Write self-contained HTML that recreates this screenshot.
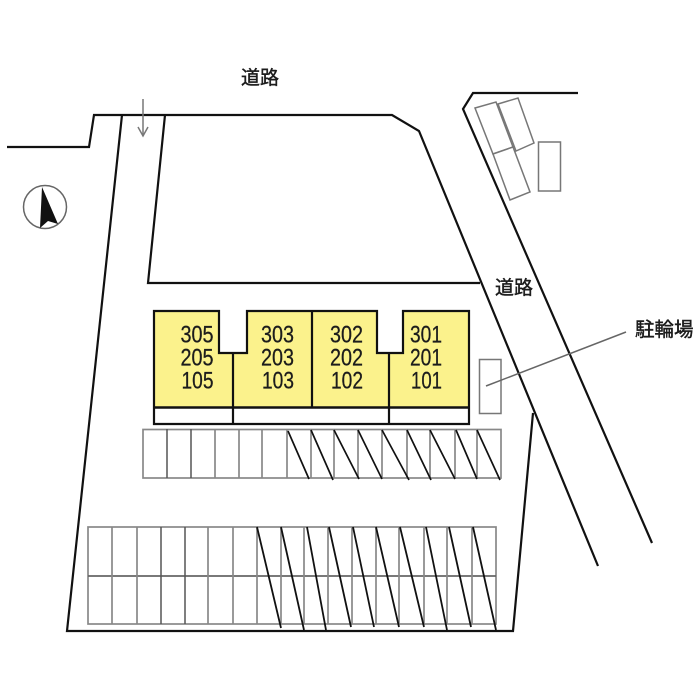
<!DOCTYPE html>
<html><head><meta charset="utf-8">
<style>html,body{margin:0;padding:0;background:#fff}svg{display:block}
text{font-family:"Liberation Sans","Noto Sans CJK JP",sans-serif;fill:#1c1c1c}
.lab{stroke:#1c1c1c;stroke-width:.45px}.num{stroke:#1c1c1c;stroke-width:.25px}</style></head>
<body>
<svg width="700" height="700" viewBox="0 0 700 700" xmlns="http://www.w3.org/2000/svg">
<rect width="700" height="700" fill="#fff"/>
<!-- site lines -->
<g fill="none" stroke="#111" stroke-width="2.200">
<polyline points="7,147 89,147 94,115 392,115 419,131 598,566"/>
<polyline points="122,115 67,631 513,631 533,413"/>
<polyline points="165,115 148,283 480,283"/>
<polyline points="578,93 473,93 463,109 652,543"/>
</g>
<!-- arrow -->
<g fill="none" stroke="#777" stroke-width="1.500">
<line x1="143" y1="99" x2="143" y2="136"/>
<polyline points="138,127 143,136 148,127"/>
</g>
<!-- north -->
<circle cx="45" cy="207" r="21.500" fill="#fff" stroke="#666" stroke-width="1.500"/>
<polygon points="42,187 58,224 48,221 40,228" fill="#111"/>
<!-- top right cars -->
<g fill="#fff" stroke="#777" stroke-width="1.500">
<polygon points="475,108 496,102 513,147 493,154"/>
<polygon points="498,104 518,98 534,143 516,151"/>
<polygon points="493,154 513,147 530,192 510,200"/>
<rect x="538.500" y="142" width="22" height="49"/>
<rect x="479.500" y="359.500" width="21.500" height="54"/>
</g>
<!-- leader -->
<line x1="486" y1="386" x2="626" y2="332" stroke="#666" stroke-width="1.500"/>
<!-- building -->
<polygon points="154,311 219,311 219,353 247,353 247,311 377,311 377,353 403,353 403,311 469,311 469,407 154,407" fill="#fbf28c"/>
<g fill="none" stroke="#111" stroke-width="2.200">
<polygon points="154,311 219,311 219,353 247,353 247,311 377,311 377,353 403,353 403,311 469,311 469,424 154,424"/>
<line x1="154" y1="407.500" x2="469" y2="407.500" stroke-width="2.500"/>
<line x1="233" y1="353" x2="233" y2="424"/>
<line x1="312" y1="311" x2="312" y2="407"/>
<line x1="389" y1="353" x2="389" y2="424"/>
</g>
<g font-size="24" class="num">
<text x="180.500" y="342.500" textLength="33" lengthAdjust="spacingAndGlyphs">305</text>
<text x="180.500" y="365.500" textLength="33" lengthAdjust="spacingAndGlyphs">205</text>
<text x="181.500" y="388.500" textLength="32" lengthAdjust="spacingAndGlyphs">105</text>
<text x="261" y="342.500" textLength="33" lengthAdjust="spacingAndGlyphs">303</text>
<text x="261" y="365.500" textLength="33" lengthAdjust="spacingAndGlyphs">203</text>
<text x="262" y="388.500" textLength="32" lengthAdjust="spacingAndGlyphs">103</text>
<text x="330" y="342.500" textLength="33" lengthAdjust="spacingAndGlyphs">302</text>
<text x="330" y="365.500" textLength="33" lengthAdjust="spacingAndGlyphs">202</text>
<text x="331" y="388.500" textLength="32" lengthAdjust="spacingAndGlyphs">102</text>
<text x="410" y="342.500" textLength="32" lengthAdjust="spacingAndGlyphs">301</text>
<text x="410" y="365.500" textLength="32" lengthAdjust="spacingAndGlyphs">201</text>
<text x="411" y="388.500" textLength="31" lengthAdjust="spacingAndGlyphs">101</text>
</g>
<!-- parking 1 -->
<g fill="none" stroke="#888" stroke-width="1.700">
<rect x="143" y="429.500" width="358" height="48.500"/>
<path d="M215 429V478M239 429V478M262 429V478M287 429V478M311 429V478M334 429V478M358 429V478M382 429V478M407 429V478M430 429V478M455 429V478M477 429V478"/>
</g>
<path d="M167 429V478M191 429V478" stroke="#555" stroke-width="1.500" fill="none"/>
<g stroke="#111" stroke-width="1.700" fill="none">
<path d="M288 431L309 479M311 430L333 480M334 430L359 479M358 430L382 479M382 430L409 480M407 430L431 480M430 430L455 479M456 430L477 479M477 430L500 480"/>
</g>
<!-- parking 2 -->
<g fill="none" stroke="#888" stroke-width="1.700">
<rect x="88" y="527" width="408" height="97"/>
<path d="M88 576H496" stroke="#666"/>
<path d="M112 527V624M137 527V624M208 527V624M233 527V624M257 527V624M281 527V624M304 527V624M328 527V624M352 527V624M376 527V624M399 527V624M424 527V624M447 527V624M472 527V624"/>
</g>
<path d="M161 527V624M185 527V624" stroke="#555" stroke-width="1.500" fill="none"/>
<g stroke="#111" stroke-width="1.800" fill="none">
<path d="M257 527L281 628M281 527L304 630M307 527L326 630M329 527L351 627M353 527L374 627M376 527L399 627M400 527L424 627M426 527L447 630M449 527L471 627M473 527L496 630"/>
</g>
<!-- labels -->
<g font-size="19" class="lab">
<text x="241" y="84">道路</text>
<text x="495" y="294">道路</text>
<text x="635" y="336" font-size="19.500">駐輪場</text>
</g>
</svg>
</body></html>
